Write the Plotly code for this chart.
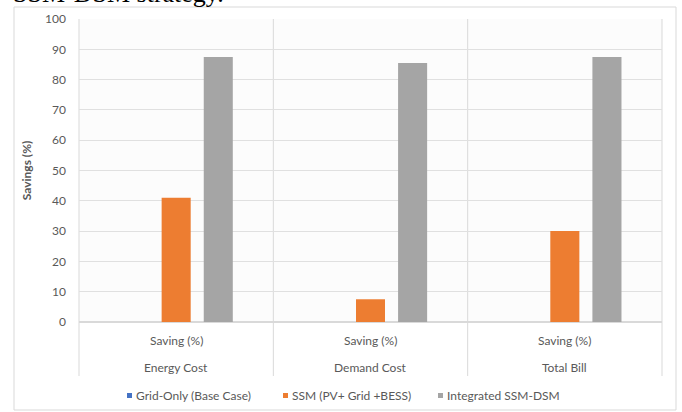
import plotly.graph_objects as go

groups = ["Energy Cost", "Demand Cost", "Total Bill"]
inner_label = "Saving (%)"
series_names = ["Grid-Only (Base Case)", "SSM (PV+ Grid +BESS)", "Integrated SSM-DSM"]
grid_only = [0, 0, 0]
ssm = [41, 7.5, 30]
integrated = [87.5, 85.5, 87.5]
colors = ["#4472C4", "#ED7D31", "#A5A5A5"]
y_ticks = [0, 10, 20, 30, 40, 50, 60, 70, 80, 90, 100]

font_family = "Lato, 'Open Sans', sans-serif"
txt = "#595959"
FS = 12

fig = go.Figure()
for name, vals, c in zip(series_names, [grid_only, ssm, integrated], colors):
    fig.add_trace(go.Bar(x=groups, y=vals, name=name, marker_color=c,
                         marker_line_width=0, showlegend=False))

W, H = 682, 412
L, R, T, B = 79, 20, 19, 90
pw, ph = W - L - R, H - T - B

def px_x(p):
    return (p - L) / pw

def px_y(p):
    return (H - B - p) / ph

shapes = []
shapes.append(dict(type="rect", xref="paper", yref="paper",
                   x0=px_x(14), x1=px_x(676), y0=px_y(410), y1=px_y(7),
                   line=dict(color="#d9d9d9", width=1), fillcolor="rgba(0,0,0,0)", layer="below"))
for xv in [0, 1/3, 2/3, 1]:
    shapes.append(dict(type="line", xref="paper", yref="paper",
                       x0=xv, x1=xv, y0=px_y(376), y1=1,
                       line=dict(color="#d9d9d9", width=1), layer="below"))

annotations = [dict(text="SSM-DSM strategy.", xref="paper", yref="paper",
                    x=px_x(11), y=1 + (T - 10) / ph, xanchor="left", yanchor="bottom",
                    showarrow=False,
                    font=dict(family="Liberation Serif, serif", size=26, color="black"))]
for g in groups:
    annotations.append(dict(text=inner_label, xref="x", yref="paper", x=g, y=px_y(340),
                            yanchor="middle", showarrow=False, font=dict(size=FS, color=txt)))
    annotations.append(dict(text=g, xref="x", yref="paper", x=g, y=px_y(367),
                            yanchor="middle", showarrow=False, font=dict(size=FS, color=txt)))

legend_marker_px = [127, 283, 438]
for name, c, mx in zip(series_names, colors, legend_marker_px):
    shapes.append(dict(type="rect", xref="paper", yref="paper",
                       x0=px_x(mx), x1=px_x(mx + 5), y0=px_y(398), y1=px_y(393),
                       line=dict(width=0), fillcolor=c))
    annotations.append(dict(text=name, xref="paper", yref="paper", x=px_x(mx + 7), y=px_y(395.5),
                            xanchor="left", yanchor="middle", showarrow=False,
                            font=dict(size=FS, color=txt)))

fig.update_layout(
    width=W, height=H,
    margin=dict(l=L, r=R, t=T, b=B, autoexpand=False),
    paper_bgcolor="white", plot_bgcolor="#fcfcfc",
    barmode="group", bargap=0.35, bargroupgap=0.31,
    font=dict(family=font_family, size=FS, color=txt),
    shapes=shapes, annotations=annotations,
    showlegend=False,
)
fig.update_yaxes(range=[0, 100], tickvals=y_ticks, showgrid=True, gridcolor="#e0e0e0",
                 zeroline=True, zerolinecolor="#d9d9d9", showline=False, automargin=False,
                 ticks="", ticklabelstandoff=12, tickfont=dict(size=FS, color=txt),
                 title=dict(text="<b>Savings (%)</b>", font=dict(size=FS, color=txt), standoff=10))
fig.update_xaxes(showgrid=False, showline=True, linecolor="#d9d9d9", ticks="",
                 showticklabels=False, automargin=False)

fig.write_html("out.html", config={"displayModeBar": False},
               post_script="document.body.style.margin='0';")
